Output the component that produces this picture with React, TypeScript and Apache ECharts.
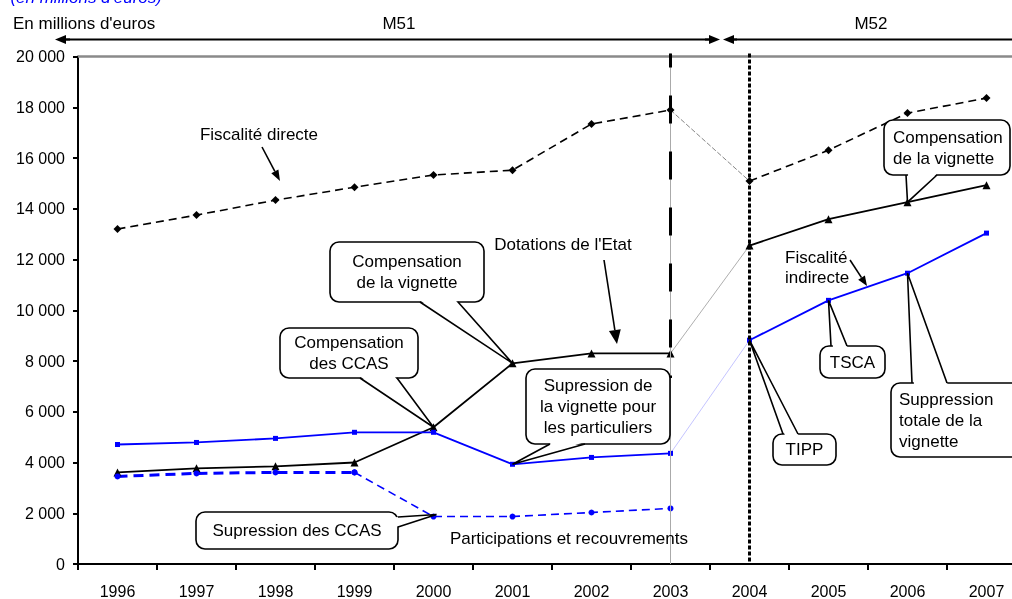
import React, { useEffect, useRef } from "react";
import * as echarts from "echarts";

// ---- Data ----
const years = ["1996", "1997", "1998", "1999", "2000", "2001", "2002", "2003", "2004", "2005", "2006", "2007"];
const fiscaliteDirecte = [13200, 13750, 14340, 14850, 15330, 15520, 17340, 17890, 15090, 16310, 17770, 18360];
const dotationsEtat = [3610, 3770, 3850, 4000, 5390, 7910, 8300, 8300, 12550, 13590, 14260, 14930];
const fiscaliteIndirecte = [4710, 4790, 4950, 5190, 5190, 3930, 4200, 4360, 8820, 10390, 11460, 13040];
const participations: (number | null)[] = [3450, 3570, 3610, 3610, 1870, 1870, 2030, 2190, null, null, null, null];
const yMin = 0;
const yMax = 20000;
const yInterval = 2000;

const FONT = '"Liberation Sans", Arial, sans-serif';

function seg(arr: (number | null)[], from: number, to: number) {
  return arr.map((v, i) => (i >= from && i <= to ? v : null));
}

function fmt(v: number) {
  return String(v).replace(/\B(?=(\d{3})+(?!\d))/g, " ");
}

type Pt = [number, number];

function arrow(x1: number, y1: number, x2: number, y2: number, len: number, w: number, lw: number, z = 120) {
  const a = Math.atan2(y2 - y1, x2 - x1);
  const bx = x2 - len * Math.cos(a);
  const by = y2 - len * Math.sin(a);
  const nx = -Math.sin(a);
  const ny = Math.cos(a);
  return [
    { type: "line", z, shape: { x1, y1, x2: bx, y2: by }, style: { stroke: "#000", lineWidth: lw } },
    {
      type: "polygon",
      z,
      shape: { points: [[x2, y2], [bx + (nx * w) / 2, by + (ny * w) / 2], [bx - (nx * w) / 2, by - (ny * w) / 2]] },
      style: { fill: "#000" },
    },
  ];
}

function callout(
  box: [number, number, number, number],
  tip: Pt,
  b1: Pt,
  b2: Pt,
  text: string,
  align: "center" | "left",
  textX?: number
) {
  const [x, y, w, h] = box;
  const cx = x + w / 2;
  const cy = y + h / 2;
  const inset = (p: Pt): Pt => {
    const dx = cx - p[0];
    const dy = cy - p[1];
    const d = Math.hypot(dx, dy) || 1;
    return [p[0] + (dx / d) * 2.5, p[1] + (dy / d) * 2.5];
  };
  const i1 = inset(b1);
  const i2 = inset(b2);
  return [
    { type: "rect", z: 110, shape: { x, y, width: w, height: h, r: 9 }, style: { fill: "#fff", stroke: "#000", lineWidth: 1.6 } },
    { type: "polygon", z: 111, shape: { points: [i1, tip, i2] }, style: { fill: "#fff" } },
    { type: "polyline", z: 112, shape: { points: [b1, tip, b2] }, style: { stroke: "#000", lineWidth: 1.6, fill: null } },
    {
      type: "text",
      z: 113,
      style: {
        text,
        x: align === "center" ? cx : (textX as number),
        y: cy,
        align,
        verticalAlign: "middle",
        fontSize: 17,
        fontFamily: FONT,
        lineHeight: 21,
        fill: "#000",
      },
    },
  ];
}

function label(text: string, x: number, y: number, align: string = "center", extra: any = {}) {
  return {
    type: "text",
    z: 113,
    style: { text, x, y, align, verticalAlign: "middle", fontSize: 17, fontFamily: FONT, lineHeight: 20, fill: "#000", ...extra },
  };
}

export default function App() {
  const ref = useRef<HTMLDivElement>(null);

  useEffect(() => {
    if (!ref.current) return;
    const chart = echarts.init(ref.current, null, { renderer: "svg" });

    const lineSeries = (
      data: (number | null)[],
      color: string,
      width: number,
      type: any,
      symbol: string,
      symbolSize: number,
      showSymbol = true,
      extra: any = {}
    ) => ({
      type: "line",
      data,
      symbol,
      symbolSize,
      showSymbol,
      connectNulls: false,
      itemStyle: { color },
      lineStyle: { color, width, type },
      z: 5,
      ...extra,
    });

    const option: any = {
      animation: false,
      grid: { left: 78, right: 0, top: 56.5, bottom: 35 },
      xAxis: {
        type: "category",
        data: years,
        boundaryGap: true,
        axisLine: { lineStyle: { color: "#000", width: 2 } },
        axisTick: { show: true, length: 6, lineStyle: { color: "#000", width: 2 } },
        axisLabel: { color: "#000", fontSize: 16, fontFamily: FONT, margin: 19 },
        splitLine: { show: false },
      },
      yAxis: {
        type: "value",
        min: yMin,
        max: yMax,
        interval: yInterval,
        axisLine: { show: true, lineStyle: { color: "#000", width: 2 } },
        axisTick: { show: true, length: 5, lineStyle: { color: "#000", width: 2 } },
        axisLabel: { color: "#000", fontSize: 16, fontFamily: FONT, margin: 13, formatter: (v: number) => fmt(v) },
        splitLine: { show: false },
      },
      series: [
        lineSeries(seg(fiscaliteDirecte, 0, 7), "#000", 1.6, [8, 5], "diamond", 8, true, {
          markLine: {
            silent: true,
            symbol: "none",
            label: { show: false },
            lineStyle: { color: "#8a8a8a", width: 2.5, type: "solid" },
            data: [{ yAxis: yMax }],
          },
        }),
        lineSeries(seg(fiscaliteDirecte, 7, 8), "#666", 0.8, [5, 2], "none", 0, false),
        lineSeries(seg(fiscaliteDirecte, 8, 11), "#000", 1.6, [8, 5], "diamond", 8),
        lineSeries(seg(dotationsEtat, 0, 7), "#000", 1.8, "solid", "triangle", 8),
        lineSeries(seg(dotationsEtat, 7, 8), "#999", 0.8, "solid", "none", 0, false),
        lineSeries(seg(dotationsEtat, 8, 11), "#000", 1.8, "solid", "triangle", 8),
        lineSeries(seg(fiscaliteIndirecte, 0, 7), "#0000ff", 1.8, "solid", "rect", 5),
        lineSeries(seg(fiscaliteIndirecte, 7, 8), "rgba(90,90,255,0.45)", 0.8, "solid", "none", 0, false),
        lineSeries(seg(fiscaliteIndirecte, 8, 11), "#0000ff", 1.8, "solid", "rect", 5),
        lineSeries(seg(participations, 0, 3), "#0000ff", 3, [10, 6], "circle", 6),
        lineSeries(seg(participations, 3, 7), "#0000ff", 1.6, [8, 5], "circle", 6),
      ],
    };

    chart.setOption(option);

    const px = (i: number, v: number): Pt => chart.convertToPixel({ gridIndex: 0 }, [i, v]) as Pt;
    const yTop = px(0, yMax)[1];
    const yBot = px(0, yMin)[1];
    const x2003 = px(7, 0)[0];
    const x2004 = px(8, 0)[0];

    const de = (i: number) => px(i, dotationsEtat[i]);
    const fi = (i: number) => px(i, fiscaliteIndirecte[i]);
    const pr = (i: number) => px(i, participations[i] as number);

    const els: any[] = [];

    // blue truncated title (cut at the top edge as in the source)
    els.push({
      type: "text",
      z: 113,
      style: { text: "(en millions d'euros)", x: 162, y: 6, align: "right", verticalAlign: "bottom", fontSize: 17, fontStyle: "italic", fontFamily: FONT, fill: "#0000ff" },
    });
    els.push(label("En millions d'euros", 13, 23, "left"));
    els.push(label("M51", 399, 23));
    els.push(label("M52", 871, 23));

    // M51 / M52 arrows
    els.push({ type: "line", z: 100, shape: { x1: 60, y1: 39.5, x2: 712, y2: 39.5 }, style: { stroke: "#000", lineWidth: 2 } });
    els.push({ type: "line", z: 100, shape: { x1: 730, y1: 39.5, x2: 1030, y2: 39.5 }, style: { stroke: "#000", lineWidth: 2 } });
    els.push(...arrow(70, 39.5, 55, 39.5, 11, 9, 2));
    els.push(...arrow(705, 39.5, 720, 39.5, 11, 9, 2));
    els.push(...arrow(737, 39.5, 723, 39.5, 11, 9, 2));

    // vertical separators
    els.push({ type: "line", z: 50, shape: { x1: x2003, y1: yTop - 3, x2: x2003, y2: yBot }, style: { stroke: "#aaa", lineWidth: 1 } });
    els.push({
      type: "line",
      z: 51,
      shape: { x1: x2003, y1: yTop - 3, x2: x2003, y2: 378 },
      style: { stroke: "#000", lineWidth: 3, lineDash: [28, 28], lineDashOffset: 14 },
    });
    els.push({
      type: "line",
      z: 51,
      shape: { x1: x2004, y1: yTop - 3, x2: x2004, y2: yBot },
      style: { stroke: "#000", lineWidth: 3, lineDash: [4, 2] },
    });

    // free labels with arrows
    els.push(label("Fiscalité directe", 259, 134));
    els.push(...arrow(262, 147, 280, 181, 11, 8, 1.6));
    els.push(label("Dotations de l'Etat", 563, 244));
    els.push(...arrow(604, 260, 617, 344, 14, 12, 1.6));
    els.push(label("Participations et recouvrements", 688, 538, "right"));
    els.push(label("Fiscalité\nindirecte", 785, 267, "left"));
    els.push(...arrow(850, 260, 867, 286, 10, 8, 1.6));

    // callouts
    els.push(...callout([330, 242, 154, 60], de(5), [420, 302], [458, 302], "Compensation\nde la vignette", "center"));
    els.push(...callout([280, 328, 138, 50], de(4), [360, 378], [397, 378], "Compensation\ndes CCAS", "center"));
    const p2000 = pr(4);
    els.push(...callout([196, 512, 202, 37], [p2000[0] + 3, p2000[1] - 2], [398, 517], [398, 527], "Supression des CCAS", "center"));
    els.push(...callout([526, 369, 144, 75], fi(5), [550, 444], [585, 444], "Supression de\nla vignette pour\nles particuliers", "center"));
    els.push(...callout([884, 120, 126, 55], de(10), [906, 175], [937, 175], "Compensation\nde la vignette", "left", 893));
    els.push(...callout([820, 346, 65, 32], fi(9), [831, 346], [847, 346], "TSCA", "center"));
    els.push(...callout([773, 434, 63, 31], fi(8), [783, 434], [798, 434], "TIPP", "center"));
    els.push(...callout([891, 383, 140, 74], fi(10), [912, 383], [947, 383], "Suppression\ntotale de la\nvignette", "left", 899));

    chart.setOption({ graphic: { elements: els } });

    return () => chart.dispose();
  }, []);

  return (
    <div style={{ position: "fixed", left: 0, top: 0, width: 1012, height: 599, overflow: "hidden" }}>
      <div ref={ref} style={{ width: 1026, height: 599 }} />
    </div>
  );
}
